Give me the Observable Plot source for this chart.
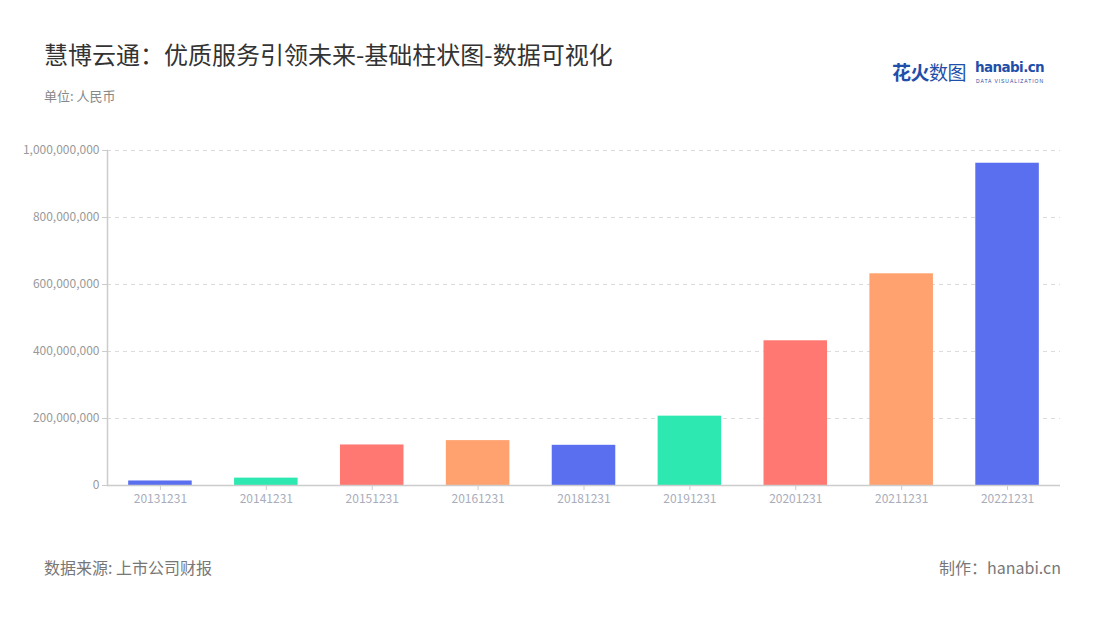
<!DOCTYPE html>
<html>
<head>
<meta charset="utf-8">
<script src="https://cdn.jsdelivr.net/npm/d3@7"></script>
<script src="https://cdn.jsdelivr.net/npm/@observablehq/plot@0.6"></script>
<style>
  html, body { margin: 0; padding: 0; background: #fff; }
  #wrap { position: relative; width: 1100px; height: 620px; font-family: "Noto Sans CJK SC", "Noto Sans", sans-serif; overflow: hidden; }
  #title { position: absolute; left: 44px; top: 36px; font-size: 24px; color: #333; white-space: nowrap; }
  #subtitle { position: absolute; left: 44px; top: 86px; font-size: 13px; color: #888; }
  #logo { position: absolute; left: 892px; top: 58px; white-space: nowrap; color: #1f4fa8; }
  #logo .cn { font-size: 19px; font-weight: 700; letter-spacing: -0.5px; }
  #logo .cn2 { font-size: 19px; font-weight: 400; letter-spacing: -0.5px; }
  #logo .en { position: absolute; left: 83px; top: 1px; font-family: "DejaVu Sans", sans-serif; font-weight: 700; font-size: 13.5px; letter-spacing: -0.6px; color: #1f4fa8; }
  #logo .sub { position: absolute; left: 84px; top: 20px; font-family: "Liberation Sans", sans-serif; font-size: 5px; letter-spacing: 0.95px; color: #1f4fa8; }
  #source { position: absolute; left: 44px; top: 555px; font-size: 16px; color: #777; }
  #maker { position: absolute; right: 39px; top: 555px; font-size: 16px; color: #777; }
  #chart { position: absolute; left: 0; top: 120px; }
</style>
</head>
<body>
<div id="wrap">
  <div id="title">慧博云通：优质服务引领未来-基础柱状图-数据可视化</div>
  <div id="subtitle">单位: 人民币</div>
  <div id="logo"><span class="cn">花火</span><span class="cn2">数图</span><span class="en">hanabi.cn</span><span class="sub">DATA VISUALIZATION</span></div>
  <div id="chart"></div>
  <div id="source">数据来源: 上市公司财报</div>
  <div id="maker">制作：hanabi.cn</div>
</div>
<script>
const dates = ["20131231","20141231","20151231","20161231","20181231","20191231","20201231","20211231","20221231"];
const values = [13500000, 22000000, 121000000, 134000000, 120000000, 207000000, 432000000, 632000000, 962000000];
const palette = ["#5a6fef","#2de8b0","#ff7872","#ffa26f"];
const yTicks = [0, 200000000, 400000000, 600000000, 800000000, 1000000000];

const data = dates.map((d, i) => ({date: d, value: values[i], color: palette[i % palette.length]}));

const chart = Plot.plot({
  width: 1100,
  height: 400,
  marginTop: 30,
  marginBottom: 35,
  marginLeft: 107,
  marginRight: 40,
  style: {fontFamily: '"Noto Sans CJK SC", "Noto Sans", sans-serif', fontSize: "12px", background: "transparent"},
  x: {domain: dates, range: [107, 1060], paddingInner: 0.4, paddingOuter: 0.2, round: false},
  y: {domain: [0, 1000000000]},
  marks: [
    Plot.gridY(yTicks.slice(1), {stroke: "#dcdcdc", strokeOpacity: 1, strokeDasharray: "4,4"}),
    Plot.barY(data, {x: "date", y: "value", fill: "color"}),
    Plot.frame({anchor: "left", stroke: "#cccccc", strokeWidth: 1.5}),
    Plot.ruleY([0], {stroke: "#cccccc", strokeWidth: 1.5}),
    Plot.axisY(yTicks, {tickFormat: d3.format(","), tickSize: 5, tickPadding: 3, stroke: "#cccccc", fill: "#999999", fontSize: 12, label: null}),
    Plot.axisX({tickSize: 5, tickPadding: 4, stroke: "#cccccc", fill: "#a9adbb", fontSize: 12, label: null})
  ]
});
document.getElementById("chart").appendChild(chart);
</script>
</body>
</html>
